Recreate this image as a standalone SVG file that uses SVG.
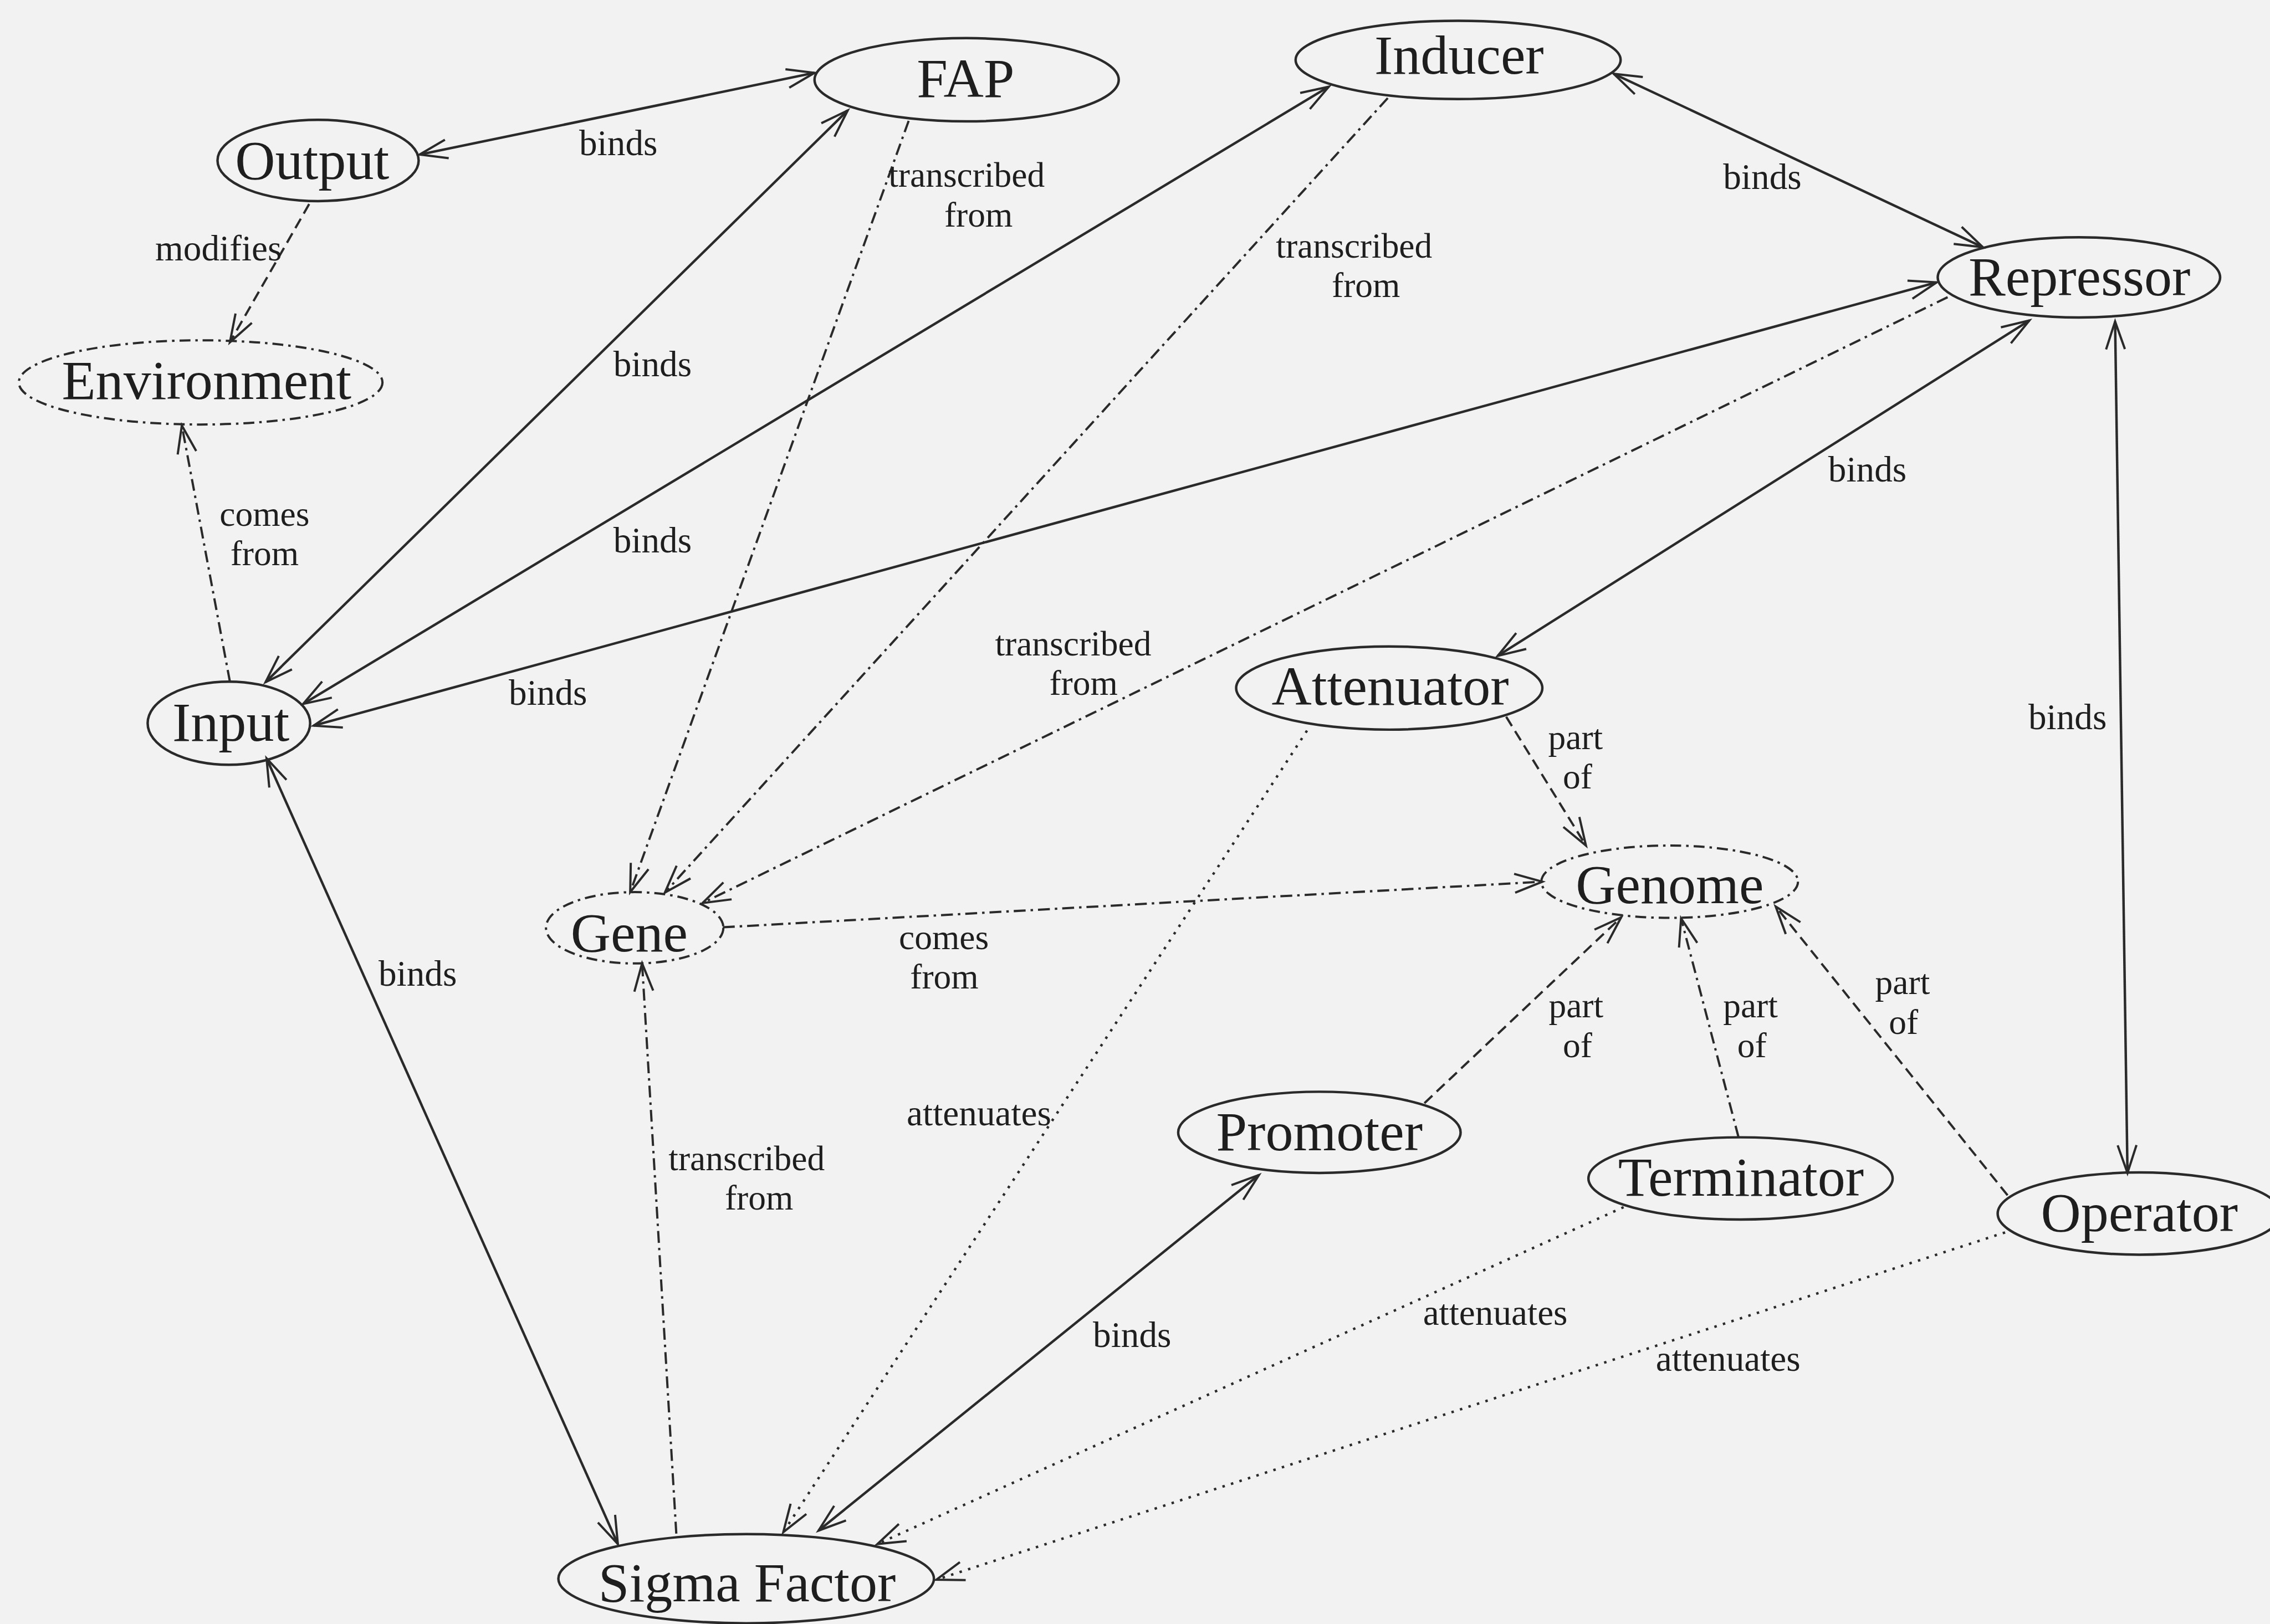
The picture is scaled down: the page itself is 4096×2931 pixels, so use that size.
<svg xmlns="http://www.w3.org/2000/svg" width="4096" height="2931" viewBox="0 0 4096 2931">
<style>
.bg{fill:#f2f2f2}
.node ellipse{fill:none;stroke:#2a2a2a;stroke-width:5}
.node ellipse.dd{stroke-dasharray:22 10 5 10;stroke-width:4.5}
.node text{font-family:"Liberation Serif","Times New Roman",serif;font-size:112px;fill:#1e1e1e;text-anchor:middle}
.lbl{font-family:"Liberation Serif","Times New Roman",serif;font-size:73px;fill:#1e1e1e;text-anchor:middle}
.lbl2{font-family:"Liberation Serif","Times New Roman",serif;font-size:71px;fill:#1e1e1e;text-anchor:middle}
.e{fill:none;stroke:#2a2a2a;stroke-width:4.5}
.solid{stroke-width:5}
.dash{stroke-dasharray:22 12}
.dashdot{stroke-dasharray:24 10 5 10}
.dot{stroke-dasharray:5 13;stroke-width:5}
.one{marker-end:url(#arr)}
.two{marker-start:url(#arr);marker-end:url(#arr)}
</style>
<defs>
<marker id="arr" markerUnits="userSpaceOnUse" viewBox="-62 -26 70 52" refX="0" refY="0" markerWidth="70" markerHeight="52" orient="auto-start-reverse" overflow="visible">
<path d="M-56,-19 L0,0 L-56,19" fill="none" stroke="#2a2a2a" stroke-width="4.5" stroke-dasharray="none"/>
</marker>
</defs>
<rect class="bg" x="0" y="0" width="4096" height="2931"/>
<g transform="scale(0.894)">
<g id="connectors">
<g id="e-output-fap"><path class="e solid two" d="M847,312 L1644,147"/><text class="lbl" x="1248" y="313">binds</text></g>
<g id="e-output-env"><path class="e dash one" d="M624,412 L464,691"/><text class="lbl" x="441" y="526">modifies</text></g>
<g id="e-input-env"><path class="e dashdot one" d="M464,1376 L367,859"/><text class="lbl2" x="534" y="1061">comes<tspan x="534" y="1141">from</tspan></text></g>
<g id="e-input-fap"><path class="e solid two" d="M536,1377 L1711,223"/><text class="lbl" x="1317" y="759">binds</text></g>
<g id="e-input-inducer"><path class="e solid two" d="M612,1421 L2682,175"/><text class="lbl" x="1317" y="1115">binds</text></g>
<g id="e-input-repressor"><path class="e solid two" d="M633,1465 L3909,570"/><text class="lbl" x="1106" y="1423">binds</text></g>
<g id="e-input-sigma"><path class="e solid two" d="M538,1531 L1247,3117"/><text class="lbl" x="843" y="1990">binds</text></g>
<g id="e-fap-gene"><path class="e dashdot one" d="M1834,244 L1272,1801"/><text class="lbl2" x="1951" y="377">transcribed<tspan x="1975" y="457">from</tspan></text></g>
<g id="e-inducer-gene"><path class="e dashdot one" d="M2801,198 L1342,1802"/><text class="lbl2" x="2733" y="520">transcribed<tspan x="2757" y="600">from</tspan></text></g>
<g id="e-repressor-gene"><path class="e dashdot one" d="M3931,600 L1418,1823"/><text class="lbl2" x="2166" y="1323">transcribed<tspan x="2187" y="1403">from</tspan></text></g>
<g id="e-gene-genome"><path class="e dashdot one" d="M1459,1872 L3113,1780"/><text class="lbl2" x="1905" y="1916">comes<tspan x="1906" y="1996">from</tspan></text></g>
<g id="e-inducer-repressor"><path class="e solid two" d="M3257,149 L4002,499"/><text class="lbl" x="3557" y="382">binds</text></g>
<g id="e-repressor-attenuator"><path class="e solid two" d="M4096,647 L3023,1324"/><text class="lbl" x="3769" y="972">binds</text></g>
<g id="e-repressor-operator"><path class="e solid two" d="M4269,649 L4294,2368"/><text class="lbl" x="4173" y="1472">binds</text></g>
<g id="e-attenuator-genome"><path class="e dash one" d="M3040,1447 L3201,1707"/><text class="lbl2" x="3180" y="1512">part<tspan x="3184" y="1592">of</tspan></text></g>
<g id="e-promoter-genome"><path class="e dash one" d="M2875,2227 L3272,1852"/><text class="lbl2" x="3181" y="2054">part<tspan x="3184" y="2134">of</tspan></text></g>
<g id="e-terminator-genome"><path class="e dashdot one" d="M3509,2296 L3393,1854"/><text class="lbl2" x="3533" y="2054">part<tspan x="3536" y="2134">of</tspan></text></g>
<g id="e-operator-genome"><path class="e dash one" d="M4052,2413 L3584,1830"/><text class="lbl2" x="3840" y="2007">part<tspan x="3842" y="2087">of</tspan></text></g>
<g id="e-attenuator-sigma"><path class="e dot one" d="M2638,1475 L1581,3093"/><text class="lbl" x="1976" y="2272">attenuates</text></g>
<g id="e-promoter-sigma"><path class="e solid two" d="M2541,2372 L1652,3090"/><text class="lbl" x="2285" y="2719">binds</text></g>
<g id="e-terminator-sigma"><path class="e dot one" d="M3277,2437 L1771,3117"/><text class="lbl" x="3018" y="2674">attenuates</text></g>
<g id="e-operator-sigma"><path class="e dot one" d="M4047,2488 L1890,3189"/><text class="lbl" x="3488" y="2767">attenuates</text></g>
<g id="e-sigma-gene"><path class="e dashdot one" d="M1365,3096 L1296,1945"/><text class="lbl2" x="1507" y="2362">transcribed<tspan x="1532" y="2442">from</tspan></text></g>
</g>
<g id="node-output" class="node"><ellipse cx="642" cy="324" rx="203" ry="82"/><text x="630" y="361">Output</text></g>
<g id="node-environment" class="node"><ellipse class="dd" cx="405" cy="772" rx="367" ry="85"/><text x="417" y="805">Environment</text></g>
<g id="node-fap" class="node"><ellipse cx="1951" cy="161" rx="307" ry="84"/><text x="1949" y="196">FAP</text></g>
<g id="node-inducer" class="node"><ellipse cx="2943" cy="121" rx="328" ry="79"/><text x="2945" y="149">Inducer</text></g>
<g id="node-repressor" class="node"><ellipse cx="4196" cy="560" rx="285" ry="81"/><text x="4197" y="596">Repressor</text></g>
<g id="node-input" class="node"><ellipse cx="462" cy="1460" rx="164" ry="84"/><text x="466" y="1496">Input</text></g>
<g id="node-gene" class="node"><ellipse class="dd" cx="1281" cy="1873" rx="179" ry="72"/><text x="1270" y="1921">Gene</text></g>
<g id="node-attenuator" class="node"><ellipse cx="2804" cy="1389" rx="309" ry="84"/><text x="2806" y="1423">Attenuator</text></g>
<g id="node-genome" class="node"><ellipse class="dd" cx="3370" cy="1780" rx="259" ry="73"/><text x="3370" y="1823">Genome</text></g>
<g id="node-promoter" class="node"><ellipse cx="2663" cy="2286" rx="285" ry="82"/><text x="2663" y="2322">Promoter</text></g>
<g id="node-terminator" class="node"><ellipse cx="3513" cy="2379" rx="307" ry="83"/><text x="3514" y="2414">Terminator</text></g>
<g id="node-operator" class="node"><ellipse cx="4318" cy="2450" rx="286" ry="83"/><text x="4318" y="2485">Operator</text></g>
<g id="node-sigma" class="node"><ellipse cx="1506" cy="3187" rx="379" ry="90"/><text x="1508" y="3233">Sigma Factor</text></g>
</g>
</svg>
